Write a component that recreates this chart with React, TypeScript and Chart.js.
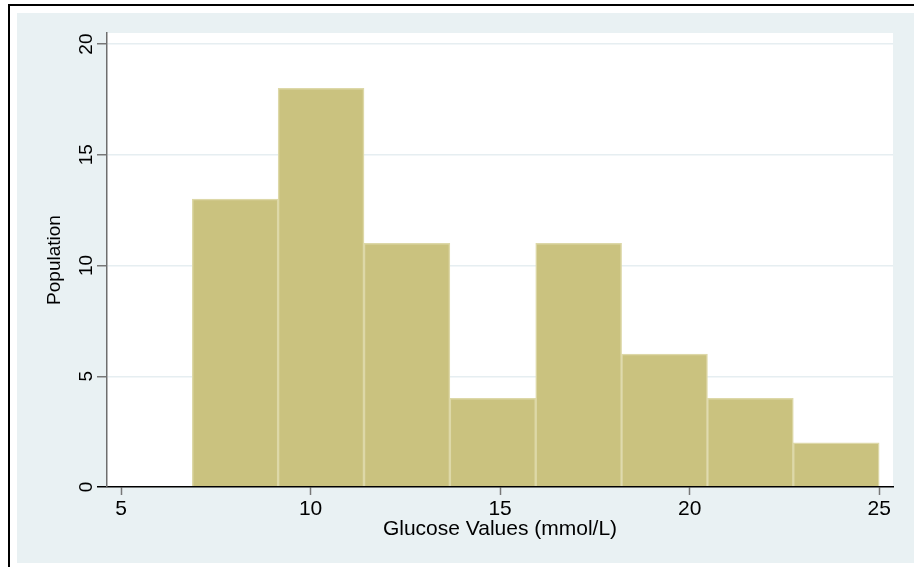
import React, { useEffect, useRef } from "react";
import { Chart, registerables } from "chart.js";

Chart.register(...registerables);

// Histogram data (bin edges in mmol/L, counts per bin)
const binEdges = [6.88, 9.145, 11.41, 13.675, 15.94, 18.205, 20.47, 22.735, 25.0];
const counts = [13, 18, 11, 4, 11, 6, 4, 2];
const xTickValues = [5, 10, 15, 20, 25];
const yTickValues = [0, 5, 10, 15, 20];
const xTitle = "Glucose Values (mmol/L)";
const yTitle = "Population";

const FONT = "'Liberation Sans', Arial, Helvetica, sans-serif";
const BG = "#E9F1F3";

const backgroundPlugin = {
  id: "stataBg",
  beforeDraw(chart: any) {
    const { ctx, width, height, chartArea } = chart;
    ctx.save();
    ctx.fillStyle = "#ffffff";
    ctx.fillRect(0, 0, width, height);
    ctx.fillStyle = BG;
    ctx.fillRect(17, 13, width - 17, 550);
    ctx.fillStyle = "#000000";
    ctx.fillRect(8, 4, width - 8, 2);
    ctx.fillRect(8, 4, 2, height - 4);
    ctx.fillStyle = "#ffffff";
    ctx.fillRect(chartArea.left, chartArea.top, chartArea.right - chartArea.left, chartArea.bottom - chartArea.top);
    ctx.restore();
  },
};

export default function App() {
  const ref = useRef<HTMLCanvasElement | null>(null);

  useEffect(() => {
    if (!ref.current) return;
    const data = counts.map((c, i) => ({ x: (binEdges[i] + binEdges[i + 1]) / 2, y: c }));
    const chart = new Chart(ref.current, {
      type: "bar",
      data: {
        datasets: [
          {
            data,
            backgroundColor: "#CAC27F",
            borderColor: "#DDD8A8",
            borderWidth: 1.5,
            borderSkipped: "start",
            barPercentage: 1,
            categoryPercentage: 1,
          } as any,
        ],
      },
      options: {
        responsive: false,
        animation: false,
        events: [],
        layout: { padding: { left: 0, right: 21, top: 33, bottom: 0 } },
        plugins: { legend: { display: false }, tooltip: { enabled: false } },
        scales: {
          x: {
            type: "linear",
            min: 4.63,
            max: 25.365,
            offset: false,
            afterBuildTicks: (s: any) => {
              s.ticks = xTickValues.map((v) => ({ value: v }));
            },
            afterFit: (s: any) => {
              s.height = 80;
            },
            grid: {
              offset: false,
              drawOnChartArea: false,
              drawTicks: true,
              tickLength: 8,
              tickColor: "#777777",
              tickWidth: 1.5,
            },
            border: { display: true, color: "#000000", width: 1.5, z: 1 },
            ticks: {
              autoSkip: false,
              maxRotation: 0,
              minRotation: 0,
              padding: 2,
              color: "#000000",
              font: { family: FONT, size: 21 },
            },
            title: {
              display: true,
              text: xTitle,
              color: "#000000",
              font: { family: FONT, size: 21 },
              padding: { top: 0, bottom: 25 },
            },
          },
          y: {
            type: "linear",
            min: 0,
            max: 20.5,
            afterBuildTicks: (s: any) => {
              s.ticks = yTickValues.map((v) => ({ value: v }));
            },
            afterFit: (s: any) => {
              s.width = 107;
            },
            grid: {
              drawOnChartArea: true,
              color: (c: any) => (c.tick && c.tick.value === 0 ? "rgba(0,0,0,0)" : "#E6EEF1"),
              lineWidth: 1.5,
              drawTicks: true,
              tickLength: 10,
              tickColor: (c: any) => (c.tick && c.tick.value === 0 ? "#000000" : "#777777"),
              tickWidth: 1.5,
            },
            border: { display: true, color: "#6E6E6E", width: 1.5, z: 1 },
            ticks: {
              autoSkip: false,
              minRotation: 90,
              maxRotation: 90,
              crossAlign: "center",
              padding: 0,
              color: "#000000",
              font: { family: FONT, size: 19 },
            },
            title: {
              display: true,
              text: yTitle,
              color: "#000000",
              font: { family: FONT, size: 19 },
              padding: { top: 43, bottom: 0 },
            },
          },
        },
      } as any,
      plugins: [backgroundPlugin],
    });
    return () => chart.destroy();
  }, []);

  return (
    <div style={{ position: "fixed", left: 0, top: 0, width: 914, height: 567 }}>
      <canvas ref={ref} width={914} height={567} style={{ display: "block", width: 914, height: 567 }} />
    </div>
  );
}
